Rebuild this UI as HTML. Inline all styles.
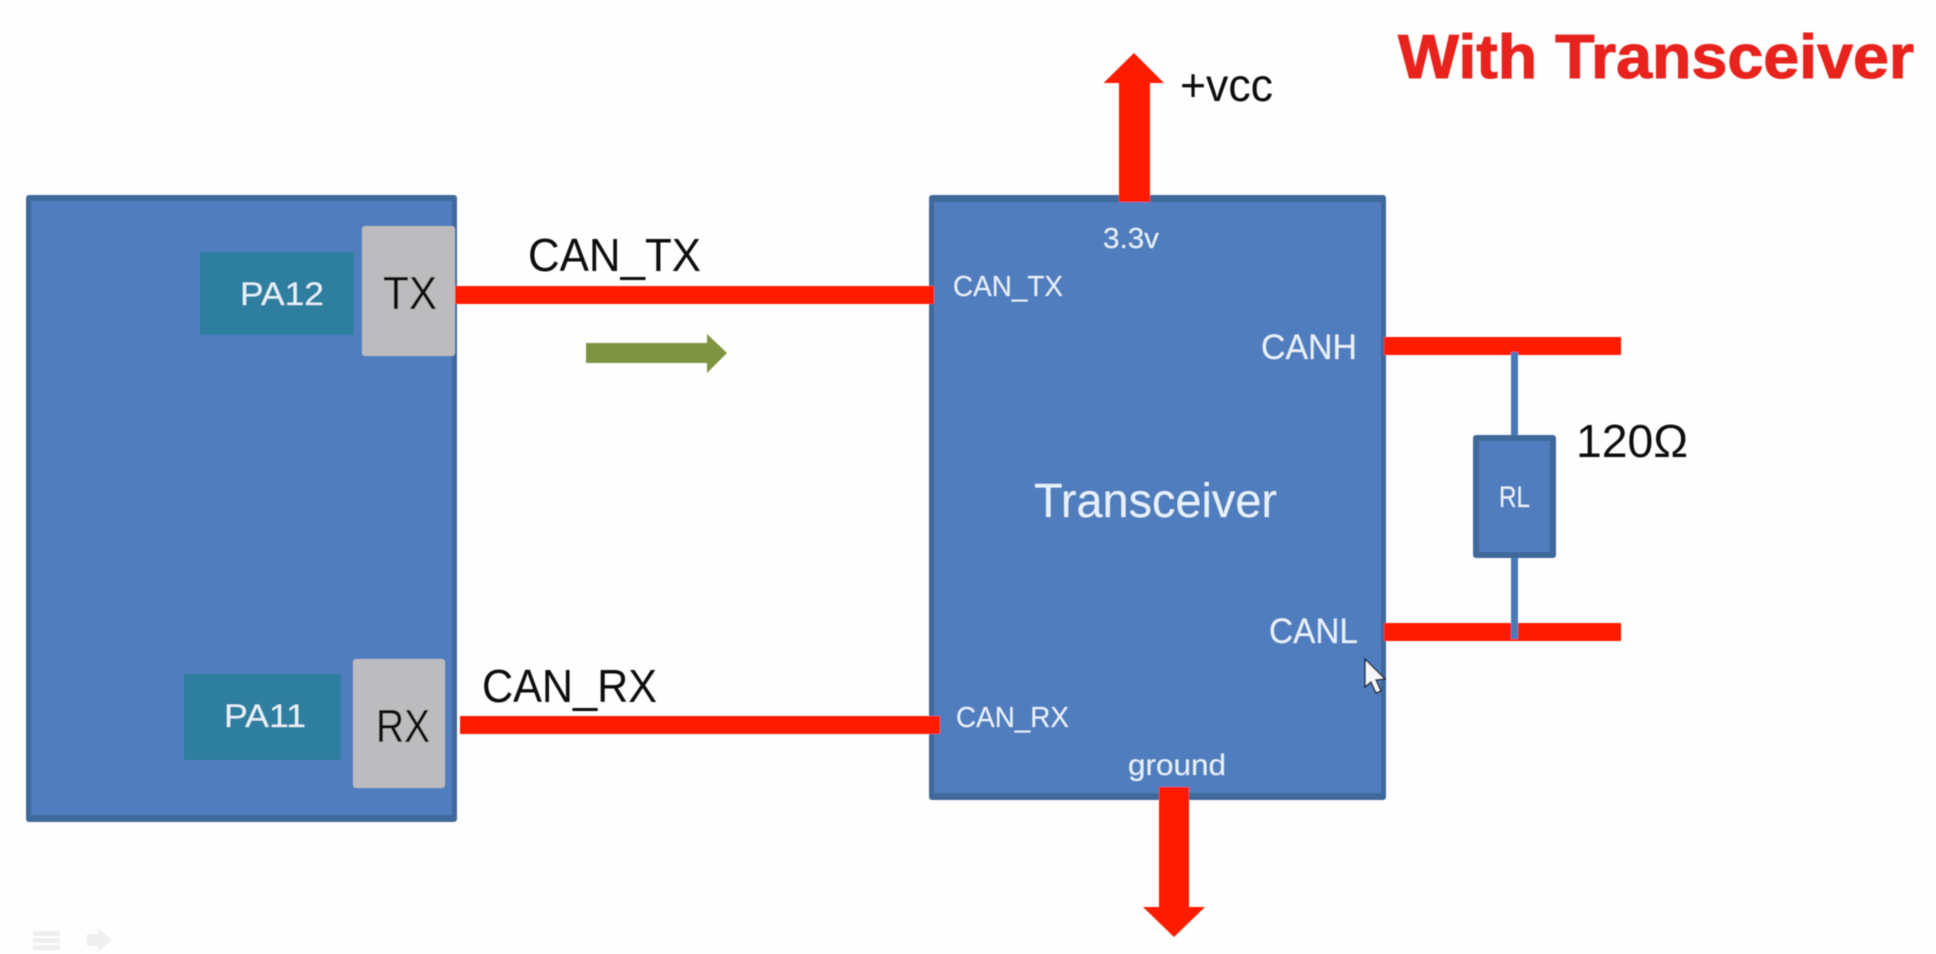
<!DOCTYPE html>
<html><head><meta charset="utf-8"><style>
html,body{margin:0;padding:0;background:#fefefe;width:1936px;height:954px;overflow:hidden}
svg{display:block}
text{font-family:"Liberation Sans",sans-serif}
.k{fill:#0c0c0c}.w{fill:#e6f1fb}
</style></head><body>
<svg width="1936" height="954" viewBox="0 0 1936 954" xmlns="http://www.w3.org/2000/svg">
<defs><filter id="soft" x="-1%" y="-1%" width="102%" height="102%"><feGaussianBlur stdDeviation="0.6"/></filter></defs>
<rect width="1936" height="954" fill="#fefefe"/>
<g filter="url(#soft)">
<!-- left block -->
<rect x="26" y="195" width="431" height="627" rx="3" fill="#41699b"/>
<rect x="31" y="201" width="421" height="614" fill="#4f7dbd"/>
<rect x="200" y="252" width="154" height="83" rx="2" fill="#2d7f9f"/>
<rect x="184" y="674" width="157" height="86" rx="2" fill="#2d7f9f"/>
<rect x="362" y="226" width="93" height="130" rx="3" fill="#bcbcbe"/>
<rect x="353" y="659" width="92" height="129" rx="3" fill="#bcbcbe"/>
<text class="w" x="240" y="305" font-size="32" textLength="84" lengthAdjust="spacingAndGlyphs">PA12</text>
<text class="w" x="224" y="727" font-size="32" textLength="82" lengthAdjust="spacingAndGlyphs">PA11</text>
<text class="k" x="383" y="309" font-size="46" textLength="54" lengthAdjust="spacingAndGlyphs">TX</text>
<text class="k" x="376" y="742" font-size="46" textLength="54" lengthAdjust="spacingAndGlyphs">RX</text>
<!-- transceiver -->
<rect x="929" y="195" width="457" height="605" rx="3" fill="#41699b"/>
<rect x="934" y="202" width="447" height="591" fill="#4f7dbd"/>
<!-- red lines -->
<rect x="455" y="286" width="479" height="18" fill="#fd1f00"/>
<rect x="460" y="716" width="480" height="18" fill="#fd1f00"/>
<rect x="1384" y="337" width="237" height="18" fill="#fd1f00"/>
<rect x="1384" y="623" width="237" height="18" fill="#fd1f00"/>
<!-- resistor -->
<rect x="1511" y="352" width="7" height="287" fill="#4a7ab8"/>
<rect x="1473" y="435" width="83" height="123" rx="3" fill="#41699b"/>
<rect x="1479" y="441" width="71" height="111" fill="#4f7dbd"/>
<text class="w" x="1499" y="507" font-size="30" textLength="31" lengthAdjust="spacingAndGlyphs">RL</text>
<text class="k" x="1576" y="457" font-size="46" textLength="112" lengthAdjust="spacingAndGlyphs">120Ω</text>
<!-- vcc and ground arrows -->
<polygon points="1134,53 1164,83 1150,83 1150,202 1119,202 1119,83 1103.5,83" fill="#fd1f00"/>
<polygon points="1159,787 1189,787 1189,907 1205,907 1174,937 1143,907 1159,907" fill="#fd1f00"/>
<!-- green arrow -->
<polygon points="586,343 707,343 707,334 727,353 707,373 707,363 586,363" fill="#7f9440"/>
<!-- labels -->
<text class="k" x="528" y="271" font-size="46" textLength="173" lengthAdjust="spacingAndGlyphs">CAN_TX</text>
<text class="k" x="482" y="702" font-size="46" textLength="175" lengthAdjust="spacingAndGlyphs">CAN_RX</text>
<text class="k" x="1180" y="101" font-size="46" textLength="93" lengthAdjust="spacingAndGlyphs">+vcc</text>
<text x="1398" y="78" font-size="62" font-weight="bold" fill="#e8231c" stroke="#e8231c" stroke-width="1" textLength="516" lengthAdjust="spacingAndGlyphs">With Transceiver</text>
<text class="w" x="1103" y="248" font-size="29" textLength="56" lengthAdjust="spacingAndGlyphs">3.3v</text>
<text class="w" x="953" y="296" font-size="29" textLength="110" lengthAdjust="spacingAndGlyphs">CAN_TX</text>
<text class="w" x="956" y="727" font-size="29" textLength="113" lengthAdjust="spacingAndGlyphs">CAN_RX</text>
<text class="w" x="1261" y="359" font-size="35" textLength="96" lengthAdjust="spacingAndGlyphs">CANH</text>
<text class="w" x="1269" y="643" font-size="35" textLength="89" lengthAdjust="spacingAndGlyphs">CANL</text>
<text class="w" x="1034" y="517" font-size="48" textLength="243" lengthAdjust="spacingAndGlyphs">Transceiver</text>
<text class="w" x="1128" y="775" font-size="30" textLength="98" lengthAdjust="spacingAndGlyphs">ground</text>
<!-- cursor -->
<polygon points="1365,659 1385,679 1376,680 1381,691 1376,693 1371,682 1365,687" fill="#f4f6f8" stroke="#1c2430" stroke-width="1.5"/>
<!-- slide controls -->
<g fill="#efefef">
<rect x="33" y="931" width="27" height="5"/><rect x="33" y="938" width="27" height="5"/><rect x="33" y="945" width="27" height="5"/>
<polygon points="87,934 98,934 98,928 112,940 98,952 98,946 87,946"/>
</g>
</g>
</svg>
</body></html>
